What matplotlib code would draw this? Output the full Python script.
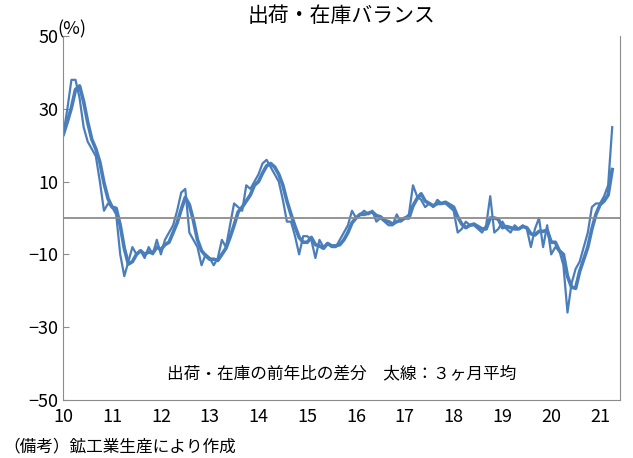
import matplotlib
matplotlib.use("Agg")
import matplotlib.pyplot as plt
import numpy as np
import pandas as pd

plt.rcParams['font.family'] = ['Noto Sans CJK JP', 'DejaVu Sans']

monthly = [
    23, 30, 38, 38, 33, 25, 21, 19, 17, 10, 2, 4,
    3, 1, -10, -16, -12, -8, -10, -9, -11, -8, -10, -6,
    -10, -6, -4, -2, 2, 7, 8, -4, -6, -8, -13, -10,
    -11, -13, -11, -6, -8, -2, 4, 3, 2, 9, 8, 10,
    12, 15, 16, 14, 12, 10, 5, -1, -1, -5, -10, -5,
    -5, -6, -11, -6, -8, -7, -8, -8, -6, -4, -2, 2,
    0, 1, 2, 1, 2, -1, 0, -1, -2, -2, 1, -1,
    0, 1, 9, 6, 5, 3, 4, 3, 5, 4, 4, 3,
    2, -4, -3, -1, -2, -2, -3, -4, -2, 6, -4, -3,
    -1, -3, -4, -2, -3, -2, -3, -8, -3, 0, -8, -2,
    -10, -8, -9, -13, -26, -18, -14, -12, -8, -4, 3, 4,
    4, 6, 9, 25,
]
start_year = 2010
year_labels = ['10', '11', '12', '13', '14', '15', '16', '17', '18', '19', '20', '21']

s = pd.Series(monthly, dtype=float)
avg3 = s.rolling(3, min_periods=1).mean()
x = start_year + np.arange(len(monthly)) / 12.0

fig = plt.figure(figsize=(6.33, 4.58), dpi=100)
ax = fig.add_axes([0.1, 0.127, 0.88, 0.794])
color = '#4a7ebb'
ax.plot(x, s, color=color, lw=1.6)
ax.plot(x, avg3, color=color, lw=2.6)
ax.axhline(0, color='#8c8c8c', lw=1.3)

ax.set_ylim(-50, 50)
ax.set_yticks([-50, -30, -10, 10, 30, 50])
ax.set_yticklabels(['−50', '−30', '−10', '10', '30', '50'], fontsize=13)
ax.set_xlim(2010, 2021 + 5/12)
ax.set_xticks(np.arange(2010, 2022))
ax.set_xticklabels(year_labels, fontsize=13)
ax.tick_params(axis='x', length=0, pad=6)
ax.tick_params(axis='y', length=4, direction='in', color='#8c8c8c')
for sp in ax.spines.values():
    sp.set_color('#8c8c8c')
ax.spines['top'].set_visible(False)

fig.text(0.09, 0.935, '(%)', fontsize=13, ha='left', va='center')
fig.text(0.54, 0.965, '出荷・在庫バランス', fontsize=15, ha='center', va='center')
ax.text(0.5, 0.045, '出荷・在庫の前年比の差分　太線：３ヶ月平均', transform=ax.transAxes,
        fontsize=12, ha='center', va='bottom')
fig.text(0.005, 0.025, '（備考）鉱工業生産により作成', fontsize=12, ha='left', va='center')

fig.savefig('out.png', dpi=100)
